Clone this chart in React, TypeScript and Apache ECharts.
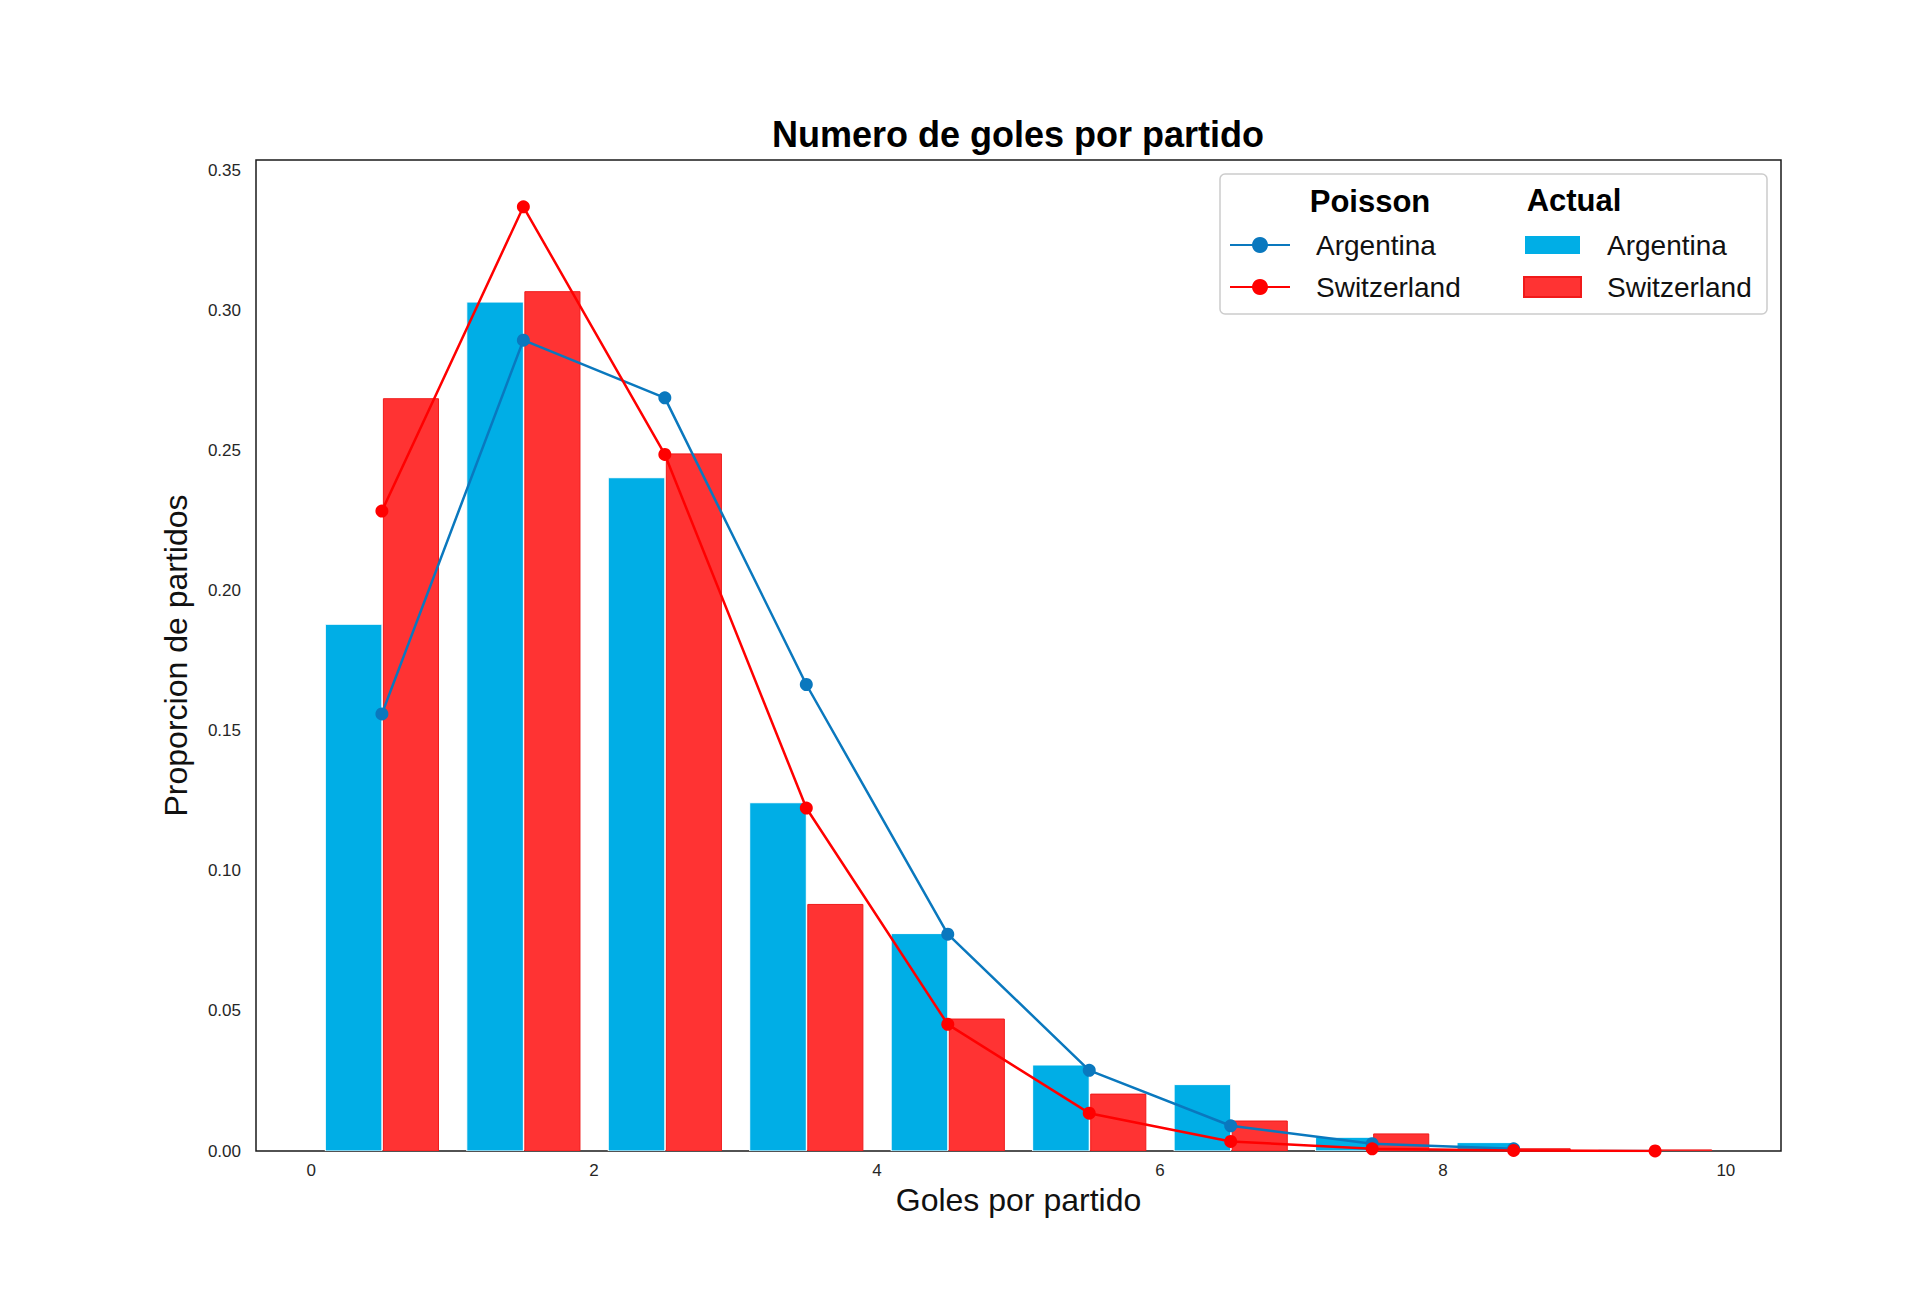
import React, { useEffect, useRef } from "react";
import * as echarts from "echarts";

// ---- data ----
const goals = [0, 1, 2, 3, 4, 5, 6, 7, 8, 9];
const argentinaActual = [0.188, 0.303, 0.2403, 0.1243, 0.0776, 0.0307, 0.0237, 0.0049, 0.003, 0.0006];
const switzerlandActual = [0.2685, 0.3067, 0.2488, 0.088, 0.0471, 0.0203, 0.0107, 0.0061, 0.0008, 0.0004];
const argentinaPoisson = [0.156, 0.2894, 0.2688, 0.1665, 0.0774, 0.0288, 0.009, 0.0026, 0.0008];
const switzerlandPoisson = [0.2284, 0.337, 0.2486, 0.1224, 0.0452, 0.0135, 0.0034, 0.0008, 0.0002, 0.00003];
const xTicks = [0, 2, 4, 6, 8, 10];
const yTicks = [0, 0.05, 0.1, 0.15, 0.2, 0.25, 0.3, 0.35];

const TITLE = "Numero de goles por partido";
const X_NAME = "Goles por partido";
const Y_NAME = "Proporcion de partidos";

const FONT = "'Liberation Sans', Arial, Helvetica, sans-serif";
const BLUE_BAR = "#00aee6";
const RED_BAR = "#ff3333";
const BLUE_LINE = "#0a78be";
const RED_LINE = "#ff0000";

const BAR_W = 0.4;

function barSeries(name: string, values: number[], offset: number, fill: string, stroke: string, inset: number) {
  return {
    type: "custom",
    name,
    z: 2,
    clip: true,
    itemStyle: { color: fill, borderColor: stroke, borderWidth: 1 },
    encode: { x: 0, y: 1 },
    data: goals.map((g, i) => [g + offset, values[i]]),
    renderItem: (params: any, api: any) => {
      const x0 = api.value(0);
      const v = api.value(1);
      const pTop = api.coord([x0, v]);
      const pBot = api.coord([x0 + BAR_W, 0]);
      return {
        type: "rect",
        shape: {
          x: pTop[0] + inset,
          y: pTop[1],
          width: pBot[0] - pTop[0] - inset,
          height: pBot[1] - pTop[1],
        },
        style: { fill, stroke, lineWidth: 1 },
      };
    },
  };
}

function lineSeries(name: string, values: number[], color: string) {
  return {
    type: "line",
    name,
    z: 5,
    data: values.map((v, i) => [goals[i] + 0.5, v]),
    symbol: "circle",
    symbolSize: 13,
    showSymbol: true,
    lineStyle: { color, width: 2.5 },
    itemStyle: { color },
  };
}

export default function App() {
  const ref = useRef<HTMLDivElement>(null);

  useEffect(() => {
    if (!ref.current) return;
    const chart = echarts.init(ref.current, undefined, { renderer: "svg" });

    const option: any = {
      animation: false,
      backgroundColor: "#ffffff",
      textStyle: { fontFamily: FONT },
      grid: {
        left: 256,
        right: 139,
        top: 160,
        bottom: 165,
        show: true,
        borderColor: "#1a1a1a",
        borderWidth: 1.5,
        backgroundColor: "transparent",
        containLabel: false,
      },
      xAxis: {
        type: "value",
        min: -0.39,
        max: 10.39,
        name: X_NAME,
        nameLocation: "middle",
        nameGap: 30,
        nameTextStyle: { fontSize: 32, color: "#111", fontFamily: FONT },
        axisLine: { show: false },
        axisTick: { show: false },
        splitLine: { show: false },
        axisLabel: {
          customValues: xTicks,
          formatter: (v: number) => String(Math.round(v)),
          fontSize: 17,
          color: "#262626",
          margin: 11,
          fontFamily: FONT,
        },
      },
      yAxis: {
        type: "value",
        min: 0,
        max: 0.3537,
        name: Y_NAME,
        nameLocation: "middle",
        nameRotate: 90,
        nameGap: 64,
        nameTextStyle: { fontSize: 32, color: "#111", fontFamily: FONT },
        axisLine: { show: false },
        axisTick: { show: false },
        splitLine: { show: false },
        axisLabel: {
          customValues: yTicks,
          formatter: (v: number) => v.toFixed(2),
          fontSize: 17,
          color: "#262626",
          margin: 15,
          fontFamily: FONT,
        },
      },
      legend: [
        {
          data: ["Poisson Argentina", "Poisson Switzerland"],
          orient: "vertical",
          left: 1229,
          top: 231,
          padding: 0,
          itemGap: 14,
          itemWidth: 60,
          itemHeight: 20,
          selectedMode: false,
          formatter: (n: string) => n.replace("Poisson ", ""),
          textStyle: { fontSize: 28, lineHeight: 28, color: "#111", fontFamily: FONT, padding: [0, 0, 0, 21] },
        },
        {
          data: ["Actual Argentina", "Actual Switzerland"],
          orient: "vertical",
          left: 1523,
          top: 231,
          padding: 0,
          itemGap: 14,
          itemWidth: 57,
          itemHeight: 20,
          icon: "rect",
          selectedMode: false,
          formatter: (n: string) => n.replace("Actual ", ""),
          textStyle: { fontSize: 28, lineHeight: 28, color: "#111", fontFamily: FONT, padding: [0, 0, 0, 21] },
        },
      ],
      graphic: [
        {
          type: "text",
          x: 1018,
          y: 134,
          z: 10,
          style: {
            text: TITLE,
            font: `bold 36px ${FONT}`,
            fill: "#000",
            textAlign: "center",
            textVerticalAlign: "middle",
          },
        },
        {
          type: "rect",
          z: 0,
          shape: { x: 1220, y: 174, width: 547, height: 140, r: 5 },
          style: { fill: "#ffffff", stroke: "#cccccc", lineWidth: 1.5 },
        },
        {
          type: "text",
          x: 1370,
          y: 201,
          z: 10,
          style: {
            text: "Poisson",
            font: `bold 31px ${FONT}`,
            fill: "#000",
            textAlign: "center",
            textVerticalAlign: "middle",
          },
        },
        {
          type: "text",
          x: 1574,
          y: 200,
          z: 10,
          style: {
            text: "Actual",
            font: `bold 31px ${FONT}`,
            fill: "#000",
            textAlign: "center",
            textVerticalAlign: "middle",
          },
        },
      ],
      series: [
        barSeries("Actual Argentina", argentinaActual, 0.1, BLUE_BAR, "#ffffff", 0),
        barSeries("Actual Switzerland", switzerlandActual, 0.5, RED_BAR, "#f01a1a", 1.5),
        lineSeries("Poisson Argentina", argentinaPoisson, BLUE_LINE),
        lineSeries("Poisson Switzerland", switzerlandPoisson, RED_LINE),
      ],
    };

    chart.setOption(option);
    return () => {
      chart.dispose();
    };
  }, []);

  return (
    <div
      ref={ref}
      style={{ position: "absolute", left: 0, top: 0, width: 1920, height: 1316, background: "#fff" }}
    />
  );
}
